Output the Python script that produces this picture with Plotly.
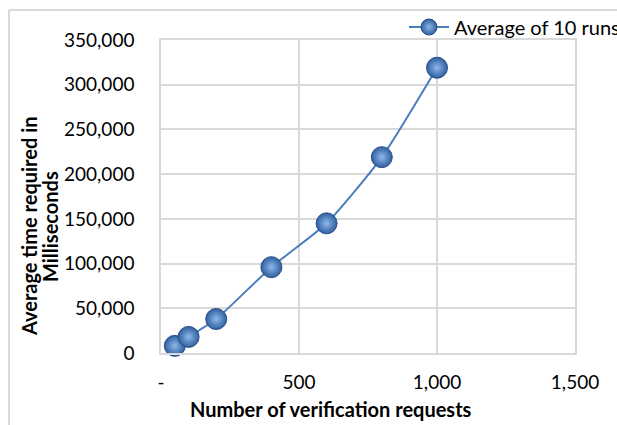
import plotly.graph_objects as go

# Verification workload vs. mean processing time
requests = [50, 100, 200, 400, 600, 800, 1000]
avg_time_ms = [8000, 18000, 38000, 96000, 145000, 219000, 319000]
series_name = "Average of 10 runs"

x_tickvals = [0, 500, 1000, 1500]
x_ticktext = ["-", "500", "1,000", "1,500"]
y_tickvals = [0, 50000, 100000, 150000, 200000, 250000, 300000, 350000]

FONT = "Lato, Carlito, Calibri, sans-serif"
LINE_BLUE = "#4a7ebb"
FS = 20
TICK_FS = 19

fig = go.Figure()
fig.add_trace(go.Scatter(
    x=requests, y=avg_time_ms, name=series_name,
    mode="lines+markers",
    line=dict(color=LINE_BLUE, width=2, shape="spline", smoothing=0.6),
    marker=dict(size=21, color="#2f5f9f",
                gradient=dict(type="radial", color="#8fb8ec"),
                line=dict(color="#2a4f85", width=1)),
    cliponaxis=False,
))

W, H = 617, 425
L, R, T, B = 161, 42, 40, 72
pw, ph = W - L - R, H - T - B

def px(xp):
    return (xp - L) / pw

def py(yp):
    return (H - B - yp) / ph

fig.update_layout(
    width=W, height=H,
    margin=dict(l=L, r=R, t=T, b=B, autoexpand=False),
    paper_bgcolor="white", plot_bgcolor="white",
    font=dict(family=FONT, size=FS, color="black"),
    showlegend=True,
    legend=dict(x=px(404), y=py(27), xanchor="left", yanchor="middle",
                orientation="h", bgcolor="rgba(0,0,0,0)",
                font=dict(family=FONT, size=FS), itemwidth=40),
    xaxis=dict(range=[0, 1500], tickvals=x_tickvals, ticktext=x_ticktext,
               showgrid=True, gridcolor="#d9d9d9", gridwidth=1.5,
               zeroline=False, showline=True, linecolor="#d9d9d9", linewidth=1.5,
               mirror=True, ticks="outside", ticklen=11,
               tickcolor="rgba(0,0,0,0)", tickfont=dict(size=TICK_FS),
               automargin=False),
    yaxis=dict(range=[0, 350000], tickvals=y_tickvals, tickformat=",",
               showgrid=True, gridcolor="#d9d9d9", gridwidth=1.5,
               zeroline=False, showline=True, linecolor="#d9d9d9", linewidth=1.5,
               mirror=True, ticks="outside", ticklen=21,
               tickcolor="rgba(0,0,0,0)", tickfont=dict(size=TICK_FS),
               automargin=False),
)

# Axis titles
fig.add_annotation(text="<b>Number of verification requests</b>",
                   xref="paper", yref="paper", x=px(331), y=py(409),
                   xanchor="center", yanchor="middle", showarrow=False,
                   font=dict(family=FONT, size=FS))
for text, xpos in [("<b>Average time required in</b>", 29),
                   ("<b>Milliseconds</b>", 50)]:
    fig.add_annotation(text=text, xref="paper", yref="paper",
                       x=px(xpos), y=py(226),
                       xanchor="center", yanchor="middle", showarrow=False,
                       textangle=-90, font=dict(family=FONT, size=FS))

# Chart-area frame
fig.add_shape(type="line", xref="paper", yref="paper",
              x0=px(9), y0=py(10), x1=px(W + 5), y1=py(10),
              line=dict(color="#d9d9d9", width=2))
fig.add_shape(type="line", xref="paper", yref="paper",
              x0=px(9), y0=py(10), x1=px(9), y1=py(H + 5),
              line=dict(color="#d9d9d9", width=2))

fig.write_html("out.html")
